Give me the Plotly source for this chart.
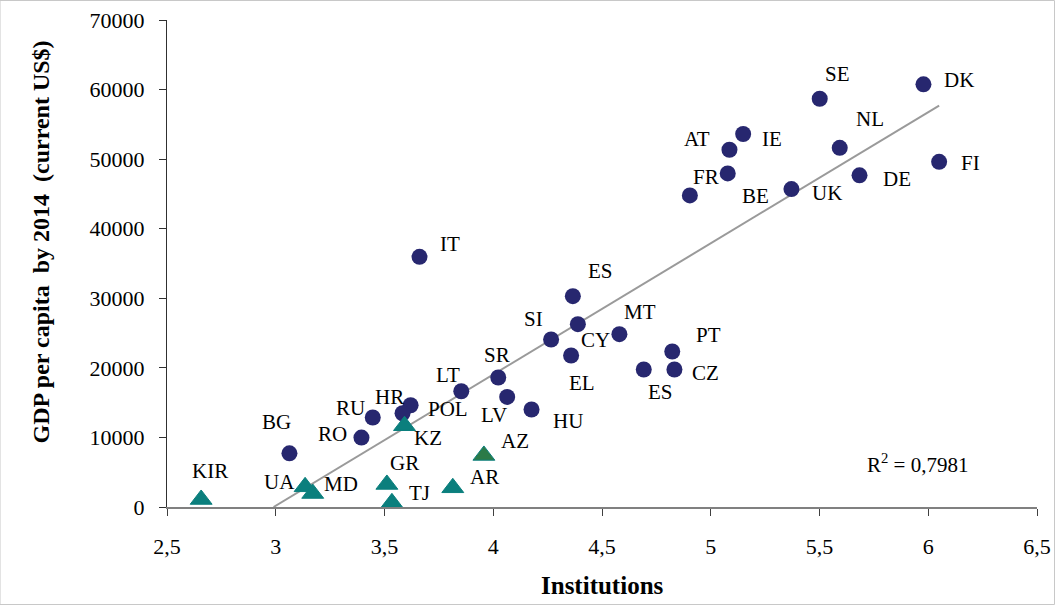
import numpy as np
import plotly.graph_objects as go

# ---- data ----
eu_names = ["BG", "RO", "RU", "HR", "POL", "LT", "SR", "LV", "HU", "IT",
            "ES", "CY", "SI", "MT", "EL", "PT", "CZ", "ES", "SE", "DK",
            "IE", "AT", "NL", "FI", "BE", "DE", "UK", "FR"]
eu_inst = [3.063, 3.394, 3.446, 3.620, 3.583, 3.853, 4.023, 4.064, 4.176, 3.661,
           4.366, 4.389, 4.266, 4.580, 4.358, 4.823, 4.833, 4.692, 5.501, 5.978,
           5.149, 5.086, 5.593, 6.050, 5.078, 5.684, 5.371, 4.904]
eu_gdp = [7720, 9980, 12860, 14630, 13480, 16640, 18610, 15820, 14010, 35960,
          30300, 26280, 24080, 24840, 21780, 22350, 19760, 19760, 58680, 60750,
          53610, 51350, 51630, 49620, 47950, 47670, 45700, 44790]

cis_names = ["KZ", "AZ", "AR", "GR", "TJ", "UA", "MD", "KIR"]
cis_inst = [3.592, 3.957, 3.814, 3.511, 3.534, 3.135, 3.170, 2.657]
cis_gdp = [11680, 7410, 2760, 3240, 600, 2900, 1940, 1080]

r2_text = "R<sup>2</sup> = 0,7981"
x_ticks = [2.5, 3, 3.5, 4, 4.5, 5, 5.5, 6, 6.5]
y_ticks = [0, 10000, 20000, 30000, 40000, 50000, 60000, 70000]

# ---- label offsets in pixels (position/style only) ----
eu_offsets = [(-13, 31), (-29, 4), (-22, 10), (-21, 8), (45, 4), (-13, 16), (-1, 23),
              (-13, -18), (36, -11), (30, 13), (28, 25), (18, -16), (-18, 20), (21, 22),
              (11, -28), (36, 17), (31, -3), (17, -22), (18, 25), (36, 4), (29, -5),
              (-32, 11), (30, 29), (31, -1), (28, -23), (37, -4), (36, -4), (16, 18)]
cis_offsets = [(23, -12), (31, 14), (32, 11), (18, 21), (28, 10), (-26, 5), (28, 10), (9, 28)]

NAVY = "#27276F"
TEAL = "#0B7F7D"
GREEN = "#2B7A47"
FONT = "Liberation Serif"

fig = go.Figure()

# trend line: least squares over all countries, clipped at y = 0
all_x = np.array(eu_inst + cis_inst)
all_y = np.array(eu_gdp + cis_gdp)
slope, intercept = np.polyfit(all_x, all_y, 1)
x_start = max(all_x.min(), -intercept / slope)
x_end = all_x.max()
fig.add_trace(go.Scatter(
    x=[x_start, x_end], y=[slope * x_start + intercept, slope * x_end + intercept],
    mode="lines", line=dict(color="#9A9A9A", width=2), hoverinfo="skip",
    showlegend=False, cliponaxis=False))

fig.add_trace(go.Scatter(
    x=eu_inst, y=eu_gdp, mode="markers", hovertext=eu_names,
    marker=dict(symbol="circle", size=16, color=NAVY, line=dict(width=0)),
    showlegend=False, cliponaxis=False))

cis_colors = [GREEN if n == "AZ" else TEAL for n in cis_names]
fig.add_trace(go.Scatter(
    x=cis_inst, y=cis_gdp, mode="markers", hovertext=cis_names,
    marker=dict(symbol="triangle-up", size=19, color=cis_colors,
                line=dict(width=1, color=TEAL)),
    showlegend=False, cliponaxis=False))

annotations = []
for n, x, y, (dx, dy) in zip(eu_names + cis_names, eu_inst + cis_inst,
                             eu_gdp + cis_gdp, eu_offsets + cis_offsets):
    annotations.append(dict(x=x, y=y, xref="x", yref="y", text=n, showarrow=False,
                            xshift=dx, yshift=dy,
                            font=dict(family=FONT, size=21, color="black")))

annotations.append(dict(x=6.194, y=6290, xref="x", yref="y", text=r2_text,
                        showarrow=False, xanchor="right", yanchor="middle",
                        font=dict(family=FONT, size=21, color="black")))
annotations.append(dict(x=0.5, y=0, xref="paper", yref="paper", text="<b>Institutions</b>",
                        showarrow=False, yshift=-78, yanchor="middle",
                        font=dict(family=FONT, size=25, color="black")))
annotations.append(dict(x=0, y=0.5, xref="paper", yref="paper",
                        text="<b>GDP per capita  by 2014  (current US$)</b>",
                        showarrow=False, textangle=-90, xshift=-127, yshift=21,
                        xanchor="center", yanchor="middle",
                        font=dict(family=FONT, size=24, color="black")))

fig.update_layout(
    width=1055, height=605, autosize=False,
    margin=dict(l=167, r=18, t=20, b=98),
    paper_bgcolor="white", plot_bgcolor="white",
    separators=",.",
    annotations=annotations,
    shapes=[dict(type="rect", xref="paper", yref="paper",
                 x0=-167 / 870, x1=1 + 17.5 / 870, y0=-97.5 / 487, y1=1 + 19.5 / 487,
                 line=dict(color="#C8C8C8", width=1))],
    xaxis=dict(range=[2.5, 6.5], tickvals=x_ticks, showgrid=False, zeroline=False,
               automargin=False,
               showline=True, linecolor="#808080", linewidth=2,
               ticks="outside", ticklen=7, tickcolor="#404040", tickwidth=1,
               ticklabelstandoff=12,
               tickfont=dict(family=FONT, size=22, color="black")),
    yaxis=dict(range=[0, 70000], tickvals=y_ticks, tickformat="d", showgrid=False,
               automargin=False,
               zeroline=False, showline=True, linecolor="#303030", linewidth=1,
               ticks="outside", ticklen=7, tickcolor="#303030", tickwidth=1,
               ticklabelstandoff=10,
               tickfont=dict(family=FONT, size=22, color="black")),
)

fig.write_html(
    "out.html",
    config={"responsive": False, "displayModeBar": False},
    post_script=("document.documentElement.style.overflow='hidden';"
                 "document.body.style.overflow='hidden';"
                 "document.body.style.margin='0';document.body.style.padding='0';"),
)
